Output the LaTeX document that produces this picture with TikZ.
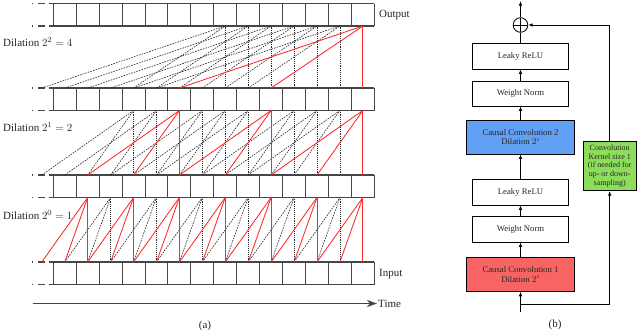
\documentclass[tikz,border=0pt]{standalone}
\usepackage{fontspec}
\setmainfont{Liberation Serif}
\usetikzlibrary{arrows.meta}
\definecolor{cblue}{RGB}{98,160,245}
\definecolor{cred}{RGB}{248,100,100}
\definecolor{cgreen}{RGB}{140,221,90}
\definecolor{cline}{RGB}{70,70,70}
\definecolor{tcnred}{RGB}{255,40,40}
\newcommand\tcnLayer[5]{%
  \foreach \j in {#4}{%
    \pgfmathtruncatemacro\ja{\j-#3}%
    \pgfmathtruncatemacro\jb{\j-2*#3}%
    \draw[vdot] (r#2t\j) -- (r#1b\j);
    \draw[ddash] (r#2t\ja) -- (r#1b\j);
    \draw[ddash] (r#2t\jb) -- (r#1b\j);
  }%
  \foreach \j in {#5}{%
    \pgfmathtruncatemacro\ja{\j-#3}%
    \pgfmathtruncatemacro\jb{\j-2*#3}%
    \draw[redl] (r#2t\j) -- (r#1b\j);
    \draw[redl] (r#2t\ja) -- (r#1b\j);
    \draw[redl] (r#2t\jb) -- (r#1b\j);
  }%
}
\begin{document}
\begin{tikzpicture}[x=1pt,y=-1pt,
  rowline/.style={draw=cline,line width=1.2pt},
  cellline/.style={draw=cline,line width=1pt},
  vdot/.style={draw=black!85,line width=0.65pt,dash pattern=on 0.7pt off 1.2pt},
  ddash/.style={draw=black!85,line width=0.6pt,dash pattern=on 1.6pt off 1.1pt},
  redl/.style={draw=tcnred,line width=0.85pt},
  lbl/.style={inner sep=1pt,font=\fontsize{11}{13}\selectfont,text=black!85},
  blk/.style={draw=black,line width=0.9pt,minimum width=95.6pt,minimum height=26pt,inner sep=1pt,align=center,font=\fontsize{8.7}{9.8}\selectfont,text=black!85},
  wide/.style={blk,minimum width=108.5pt,minimum height=34pt},
  arr/.style={draw=black,line width=0.8pt,-{Latex[length=4.5pt,width=3.6pt]}}
]
\useasboundingbox (0,0) rectangle (640,335);

% ---------- (a) rows ----------
\foreach \r/\t in {1/3.5,2/88,3/175,4/262}{
  \foreach \i in {-1,...,13}{
    \coordinate (r\r t\i) at ({53.3+22.93*(\i+0.5)},\t);
    \coordinate (r\r b\i) at ({53.3+22.93*(\i+0.5)},\t+22.5);
  }
  \foreach \k in {0,...,14}
    \draw[cellline] ({53.3+22.93*\k},\t) -- ({53.3+22.93*\k},\t+22.5);
  \foreach \yy in {\t,\t+22.5}{
    \draw[rowline] (48.5,\yy) -- (374.3,\yy);
    \draw[rowline] (31.5,\yy) -- (33.2,\yy);
    \draw[rowline] (38,\yy) -- (44.5,\yy);
  }
}

% ---------- (a) connections ----------
\tcnLayer{3}{4}{1}{2,4,6,8,10,12}{1,3,5,7,9,11,13}
\tcnLayer{2}{3}{2}{3,4,6,7,8,10,11,12}{5,9,13}
\tcnLayer{1}{2}{4}{7,8,9,10,11,12}{13}

% ---------- (a) labels ----------
\node[lbl,anchor=west] (dil4) at (2,41.5) {Dilation $2^2=4$};
\node[lbl,anchor=west] (dil2) at (2,127) {Dilation $2^1=2$};
\node[lbl,anchor=west] (dil1) at (2,215) {Dilation $2^0=1$};
\node[lbl,anchor=west] (outlbl) at (378,15) {Output};
\node[lbl,anchor=west] (inlbl) at (378,274) {Input};
\node[lbl,anchor=west] (timelbl) at (377,303.5) {Time};
\coordinate (tstart) at (32.5,303.5);
\draw[draw=cline,line width=1.6pt,-{Stealth[length=10pt,width=7pt,inset=3pt]}] (tstart) -- (timelbl.west);
\node[lbl] (alabel) at (205,326) {(a)};

% ---------- (b) ----------
\node[circle,draw,line width=0.8pt,minimum size=14.6pt,inner sep=0pt,
  path picture={\draw[line width=0.8pt] (path picture bounding box.north) -- (path picture bounding box.south)
  (path picture bounding box.west) -- (path picture bounding box.east);}] (plus) at (520.5,25) {};
\node[blk] (lr1) at (520.5,56) {Leaky ReLU};
\node[blk,minimum height=25pt] (wn1) at (520.5,93.5) {Weight Norm};
\node[wide,fill=cblue] (cc2) at (520.5,137) {Causal Convolution 2\\Dilation $2^i$};
\node[blk] (lr2) at (520.5,192) {Leaky ReLU};
\node[blk] (wn2) at (520.5,229) {Weight Norm};
\node[wide,fill=cred] (cc1) at (520.5,274.3) {Causal Convolution 1\\Dilation $2^i$};
\node[draw,line width=0.9pt,fill=cgreen,minimum width=52.7pt,minimum height=49.7pt,inner sep=0pt,
  align=center,font=\fontsize{8}{8.7}\selectfont,text=black!85] (conv) at (609.7,165.8)
  {Convolution\\Kernel size 1\\(if needed for\\up- or down-\\sampling)};
\coordinate (outc) at (520.5,1);
\coordinate (inc) at (520.5,312);
\coordinate (split) at (520.5,304);
\draw[arr] (plus.north) -- (outc);
\draw[line width=0.8pt] (lr1.north) -- (plus.south);
\draw[arr] (wn1.north) -- (lr1.south);
\draw[arr] (cc2.north) -- (wn1.south);
\draw[arr] (lr2.north) -- (cc2.south);
\draw[arr] (wn2.north) -- (lr2.south);
\draw[arr] (cc1.north) -- (wn2.south);
\draw[arr] (inc) -- (cc1.south);
\draw[arr] (split) -| (conv.south);
\draw[arr] (conv.north) |- (plus.east);
\node[lbl] (blabel) at (555,325) {(b)};
\end{tikzpicture}
\end{document}
